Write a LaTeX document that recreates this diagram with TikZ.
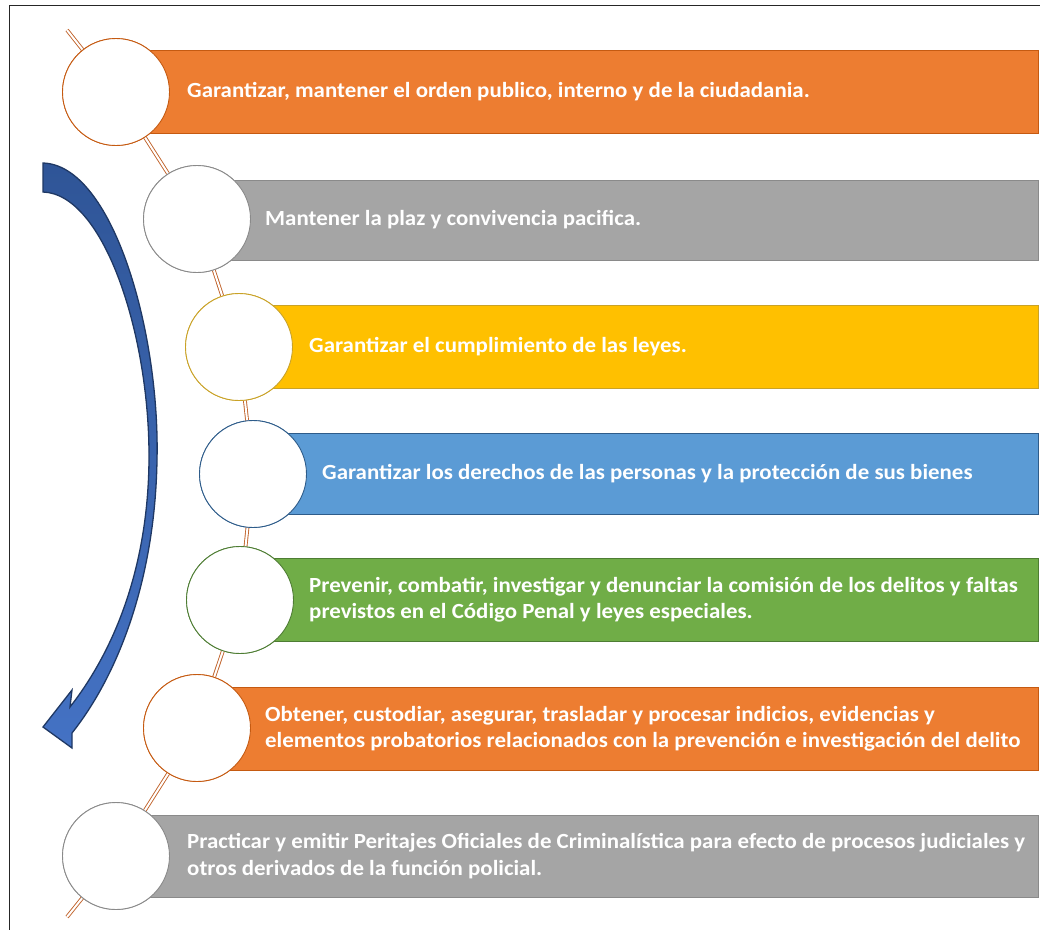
\documentclass[tikz,border=0pt]{standalone}
\usepackage{fontspec}
\setmainfont{Carlito}[FakeStretch=1.06]
\definecolor{orgfill}{HTML}{ED7D31}
\definecolor{orgline}{HTML}{C55A11}
\definecolor{gryfill}{HTML}{A5A5A5}
\definecolor{gryline}{HTML}{8A8A8A}
\definecolor{yelfill}{HTML}{FFC000}
\definecolor{yelline}{HTML}{C9A227}
\definecolor{blufill}{HTML}{5B9BD5}
\definecolor{bluline}{HTML}{2E5C8A}
\definecolor{grnfill}{HTML}{70AD47}
\definecolor{grnline}{HTML}{4E7D33}
\definecolor{linkbrown}{HTML}{C0622A}
\definecolor{arrowtop}{HTML}{2F5597}
\definecolor{arrowbot}{HTML}{4472C4}
\definecolor{arrowline}{HTML}{1F3864}
\begin{document}
\begin{tikzpicture}[x=1pt, y=-1pt,
    ring/.style={circle, draw, fill=white, minimum size=107pt, inner sep=0pt, line width=0.9pt},
    link/.style={draw=linkbrown, double=white, double distance=2pt, line width=0.9pt},
    bartext/.style={anchor=west, align=left, text=white, inner sep=0pt,
      font=\fontsize{21.6}{26.5}\selectfont\bfseries}]
  \useasboundingbox (0,0) rectangle (1040,929);
  \clip (0,0) rectangle (1040,929);
  \draw[line width=1pt, black!85] (9,5) rectangle (1060,950);

  % chain of rings
  \coordinate (top) at (67,30);
  \coordinate (bottom) at (67,917);
  \node (c1) at (116,92) [ring, draw=orgline] {};
  \node (c2) at (197,219) [ring, draw=gryline] {};
  \node (c3) at (239,347) [ring, draw=yelline] {};
  \node (c4) at (253,474) [ring, draw=bluline] {};
  \node (c5) at (240,600) [ring, draw=grnline] {};
  \node (c6) at (197,728) [ring, draw=orgline] {};
  \node (c7) at (116,856) [ring, draw=gryline] {};

  \draw[link] (top) to (c1);
  \draw[link] (c1) to (c2);
  \draw[link] (c2) to (c3);
  \draw[link] (c3) to (c4);
  \draw[link] (c4) to (c5);
  \draw[link] (c5) to (c6);
  \draw[link] (c6) to (c7);
  \draw[link] (c7) to (bottom);

  % bars
  \filldraw[fill=orgfill, draw=orgline, line width=0.8pt] (116,50) rectangle (1038,133);
  \filldraw[fill=gryfill, draw=gryline, line width=0.8pt] (197,180) rectangle (1038,260);
  \filldraw[fill=yelfill, draw=yelline, line width=0.8pt] (239,305) rectangle (1038,388);
  \filldraw[fill=blufill, draw=bluline, line width=0.8pt] (253,433) rectangle (1038,514);
  \filldraw[fill=grnfill, draw=grnline, line width=0.8pt] (240,558) rectangle (1038,641);
  \filldraw[fill=orgfill, draw=orgline, line width=0.8pt] (197,687) rectangle (1038,770);
  \filldraw[fill=gryfill, draw=gryline, line width=0.8pt] (116,815) rectangle (1038,897);

  % rings again on top of the bars
  \foreach \n/\col in {c1/orgline, c2/gryline, c3/yelline, c4/bluline, c5/grnline, c6/orgline, c7/gryline}
    \draw[\col, fill=white, line width=0.9pt] (\n.center) circle (53.5);

  \node (t1) at (187,91.5) [bartext] {Garantizar, mantener el orden publico, interno y de la ciudadania.};
  \node (t2) at (265,220) [bartext] {Mantener la plaz y convivencia pacifica.};
  \node (t3) at (309,346.5) [bartext] {Garantizar el cumplimiento de las leyes.};
  \node (t4) at (322,473.5) [bartext] {Garantizar los derechos de las personas y la protección de sus bienes};
  \node (t5) at (309,599.5) [bartext] {Prevenir, combatir, investigar y denunciar la comisión de los delitos y faltas\\previstos en el Código Penal y leyes especiales.};
  \node (t6) at (265,728.5) [bartext] {Obtener, custodiar, asegurar, trasladar y procesar indicios, evidencias y\\elementos probatorios relacionados con la prevención e investigación del delito};
  \node (t7) at (187,856) [bartext] {Practicar y emitir Peritajes Oficiales de Criminalística para efecto de procesos judiciales y\\otros derivados de la función policial.};

  % curved arrow
  \draw[arrowline, line width=1.3pt, top color=arrowtop, bottom color=arrowbot, line join=miter]
    (43,163) .. controls (112,165) and (160,330) .. (157,460)
    .. controls (155,580) and (118,675) .. (72,733)
    -- (72,748) -- (43,727) -- (72,690) -- (70,707)
    .. controls (113,652) and (148,570) .. (149,460)
    .. controls (150,335) and (104,194) .. (43,192) -- cycle;
\end{tikzpicture}
\end{document}
